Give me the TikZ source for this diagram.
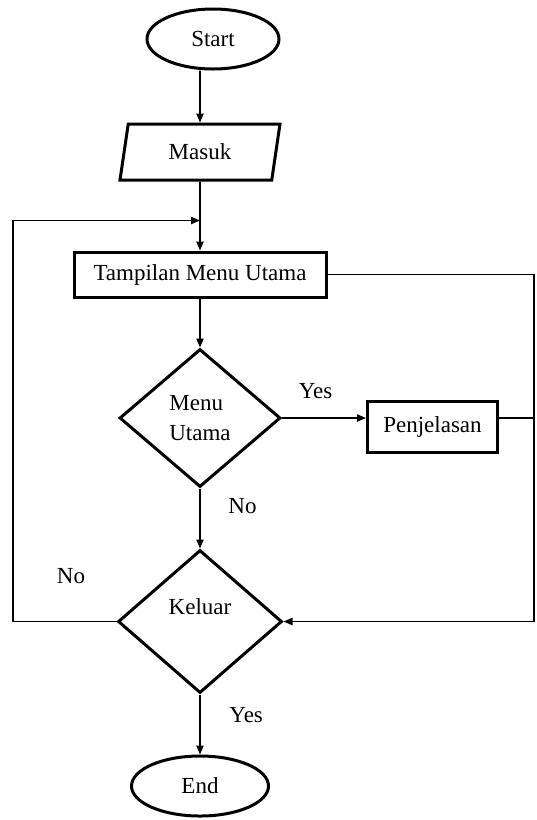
\documentclass[tikz,border=0pt]{standalone}
\usepackage{fontspec}
\setmainfont{Liberation Serif}
\usetikzlibrary{arrows.meta,positioning,shapes.geometric}

\begin{document}
\begin{tikzpicture}[>={Triangle[length=4.5pt,width=3.6pt]},
  font=\fontsize{11.5pt}{15pt}\selectfont,
  box/.style={draw, line width=1.5pt, inner sep=0pt},
  terminal/.style={box, ellipse, minimum width=66pt, minimum height=30pt},
  io/.style={box, trapezium, trapezium left angle=63, trapezium right angle=117,
    trapezium stretches body, minimum width=80pt, minimum height=28pt},
  process/.style={box, rectangle},
  decision/.style={box, diamond, align=left},
  line/.style={line width=0.8pt}]
  \useasboundingbox (0,0) rectangle (268pt,-410pt);

  \node[terminal] (start) at (106.5pt,-19.5pt) {Start};
  \node[io, below=26pt of start, xshift=-6.5pt] (masuk) {Masuk};
  \node[process, minimum width=126pt, minimum height=22.5pt, below=34.5pt of masuk] (tampil) {Tampilan Menu Utama};
  \node[decision, minimum width=80.5pt, minimum height=69pt, below=24.5pt of tampil] (menu) {Menu\\Utama};
  \node[process, minimum width=65pt, minimum height=25.5pt, right=42pt of menu, yshift=-4.5pt] (penj) {Penjelasan};
  \node[decision, minimum width=82pt, minimum height=71.5pt, below=30pt of menu] (keluar) {Keluar\\\mbox{}};
  \node[terminal, minimum width=68.5pt, below=30pt of keluar] (end) {End};

  \coordinate (gabung) at ([yshift=15pt]tampil.north);
  \coordinate (kiri) at (6.5pt,0);
  \coordinate (kanan) at (267pt,0);

  \draw[line,->] (start.south -| masuk.north) -- (masuk);
  \draw[line,->] (masuk) -- (tampil);
  \draw[line,->] (tampil) -- (menu);
  \draw[line,->] (menu.east) -- node[pos=0.4, above=6pt] (ya1) {Yes} (menu.east -| penj.west);
  \draw[line,->] (menu) -- node[pos=0.3, right=10.5pt] (tidak1) {No} (keluar);
  \draw[line,->] (keluar) -- node[pos=0.35, right=11pt] (ya2) {Yes} (end);
  \draw[line,->] (keluar.west) -| node[pos=0.22, above=15pt] (tidak2) {No} (kiri |- gabung) -- (gabung);
  \draw[line,->] (tampil.east) -| (kanan |- keluar.east) -- (keluar.east);
  \draw[line] (penj.east |- menu.east) -- (kanan |- menu.east);
\end{tikzpicture}
\end{document}
